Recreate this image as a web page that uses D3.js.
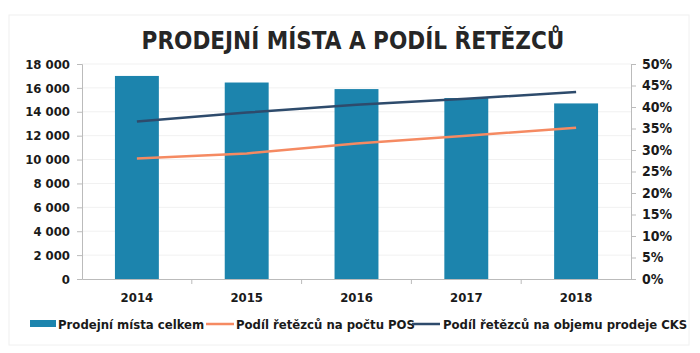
<!DOCTYPE html>
<html>
<head>
<meta charset="utf-8">
<script src="https://cdn.jsdelivr.net/npm/d3@7"></script>
<style>
  body { margin: 0; background: #fff; }
  text { font-family: "DejaVu Sans Condensed", "DejaVu Sans", sans-serif; font-weight: bold; fill: #1a1a1a; }
  .title { font-size: 24px; fill: #262626; }
  .tick text { font-size: 13px; }
  .right-axis .tick text { font-size: 14px; }
  .legend text { font-size: 13px; }
</style>
</head>
<body>
<div id="wrapper"></div>
<script>
// data
const years = ["2014", "2015", "2016", "2017", "2018"];
const posTotal = [17000, 16450, 15900, 15150, 14700];
const shareCount = [0.280, 0.292, 0.315, 0.333, 0.352];
const shareVolume = [0.366, 0.387, 0.405, 0.419, 0.435];
const leftTicks = [0, 2000, 4000, 6000, 8000, 10000, 12000, 14000, 16000, 18000];
const rightTicks = [0, 0.05, 0.1, 0.15, 0.2, 0.25, 0.3, 0.35, 0.4, 0.45, 0.5];

const seriesNames = ["Prodejní místa celkem", "Podíl řetězců na počtu POS", "Podíl řetězců na objemu prodeje CKS"];
const colors = ["#1c84ad", "#f58a62", "#2e4b6c"];

const dimensions = {
  width: 700,
  height: 353,
  margin: { top: 64, right: 69, bottom: 74, left: 82 },
};
dimensions.boundedWidth = dimensions.width - dimensions.margin.left - dimensions.margin.right;
dimensions.boundedHeight = dimensions.height - dimensions.margin.top - dimensions.margin.bottom;

const svg = d3.select("#wrapper").append("svg")
    .attr("width", dimensions.width)
    .attr("height", dimensions.height);

// faint frame from the scan
svg.append("rect")
    .attr("x", 9).attr("y", 15)
    .attr("width", 680).attr("height", 330)
    .attr("fill", "none")
    .attr("stroke", "#f0f0f0");

svg.append("text")
    .attr("class", "title")
    .attr("x", 353)
    .attr("y", 49)
    .attr("text-anchor", "middle")
    .text("PRODEJNÍ MÍSTA A PODÍL ŘETĚZCŮ");

const bounds = svg.append("g")
    .attr("transform", `translate(${dimensions.margin.left},${dimensions.margin.top})`);

// scales
const xScale = d3.scaleBand()
    .domain(years)
    .range([0, dimensions.boundedWidth])
    .paddingInner(0.6)
    .paddingOuter(0.3);
const yScale = d3.scaleLinear()
    .domain([0, 18000])
    .range([dimensions.boundedHeight, 0]);
const y2Scale = d3.scaleLinear()
    .domain([0, 0.5])
    .range([dimensions.boundedHeight, 0]);

// gridlines
bounds.append("g")
  .selectAll("line")
  .data(leftTicks.slice(1))
  .join("line")
    .attr("x1", 0)
    .attr("x2", dimensions.boundedWidth)
    .attr("y1", d => yScale(d))
    .attr("y2", d => yScale(d))
    .attr("stroke", "#f1f1f1");

// bars
bounds.append("g")
  .selectAll("rect")
  .data(posTotal)
  .join("rect")
    .attr("x", (d, i) => xScale(years[i]))
    .attr("y", d => yScale(d))
    .attr("width", xScale.bandwidth())
    .attr("height", d => dimensions.boundedHeight - yScale(d))
    .attr("fill", colors[0]);

// lines
const lineGenerator = d3.line()
    .x((d, i) => xScale(years[i]) + xScale.bandwidth() / 2)
    .y(d => y2Scale(d));

[shareCount, shareVolume].forEach((series, i) => {
  bounds.append("path")
      .attr("d", lineGenerator(series))
      .attr("fill", "none")
      .attr("stroke", colors[i + 1])
      .attr("stroke-width", 2.5);
});

// axes
const fmt = d => d3.format(",")(d).replace(",", " ");
const yAxis = d3.axisLeft(yScale)
    .tickValues(leftTicks)
    .tickFormat(fmt)
    .tickSize(5)
    .tickPadding(7);
const yAxisGroup = bounds.append("g").call(yAxis);

const y2Axis = d3.axisRight(y2Scale)
    .tickValues(rightTicks)
    .tickFormat(d3.format(".0%"))
    .tickSize(5)
    .tickPadding(6);
const y2AxisGroup = bounds.append("g")
    .attr("class", "right-axis")
    .attr("transform", `translate(${dimensions.boundedWidth},0)`)
    .call(y2Axis);

const xAxis = d3.axisBottom(xScale)
    .tickSize(0)
    .tickPadding(14);
const xAxisGroup = bounds.append("g")
    .attr("transform", `translate(0,${dimensions.boundedHeight})`)
    .call(xAxis);

// category separators on the x axis
xAxisGroup.selectAll(".sep")
  .data(years.slice(1))
  .join("line")
    .attr("class", "sep")
    .attr("x1", (d, i) => (i + 1) * dimensions.boundedWidth / years.length)
    .attr("x2", (d, i) => (i + 1) * dimensions.boundedWidth / years.length)
    .attr("y1", 0)
    .attr("y2", 5)
    .attr("stroke", "#bbb");

[yAxisGroup, y2AxisGroup, xAxisGroup].forEach(g => {
  g.select(".domain").attr("stroke", "#bbb");
  g.selectAll(".tick line").attr("stroke", "#bbb");
  g.selectAll(".tick text").attr("fill", "#1a1a1a");
});

// legend
const legend = svg.append("g").attr("class", "legend");
const legendItems = [
  { x: 30, textX: 58 },
  { x: 206, textX: 236 },
  { x: 412, textX: 443 },
];
legendItems.forEach((item, i) => {
  if (i === 0) {
    legend.append("rect")
        .attr("x", item.x).attr("y", 320)
        .attr("width", 26).attr("height", 7)
        .attr("fill", colors[0]);
  } else {
    legend.append("line")
        .attr("x1", item.x).attr("x2", item.x + 28)
        .attr("y1", 324).attr("y2", 324)
        .attr("stroke", colors[i])
        .attr("stroke-width", 2.5);
  }
  legend.append("text")
      .attr("x", item.textX)
      .attr("y", 329)
      .text(seriesNames[i]);
});
</script>
</body>
</html>
